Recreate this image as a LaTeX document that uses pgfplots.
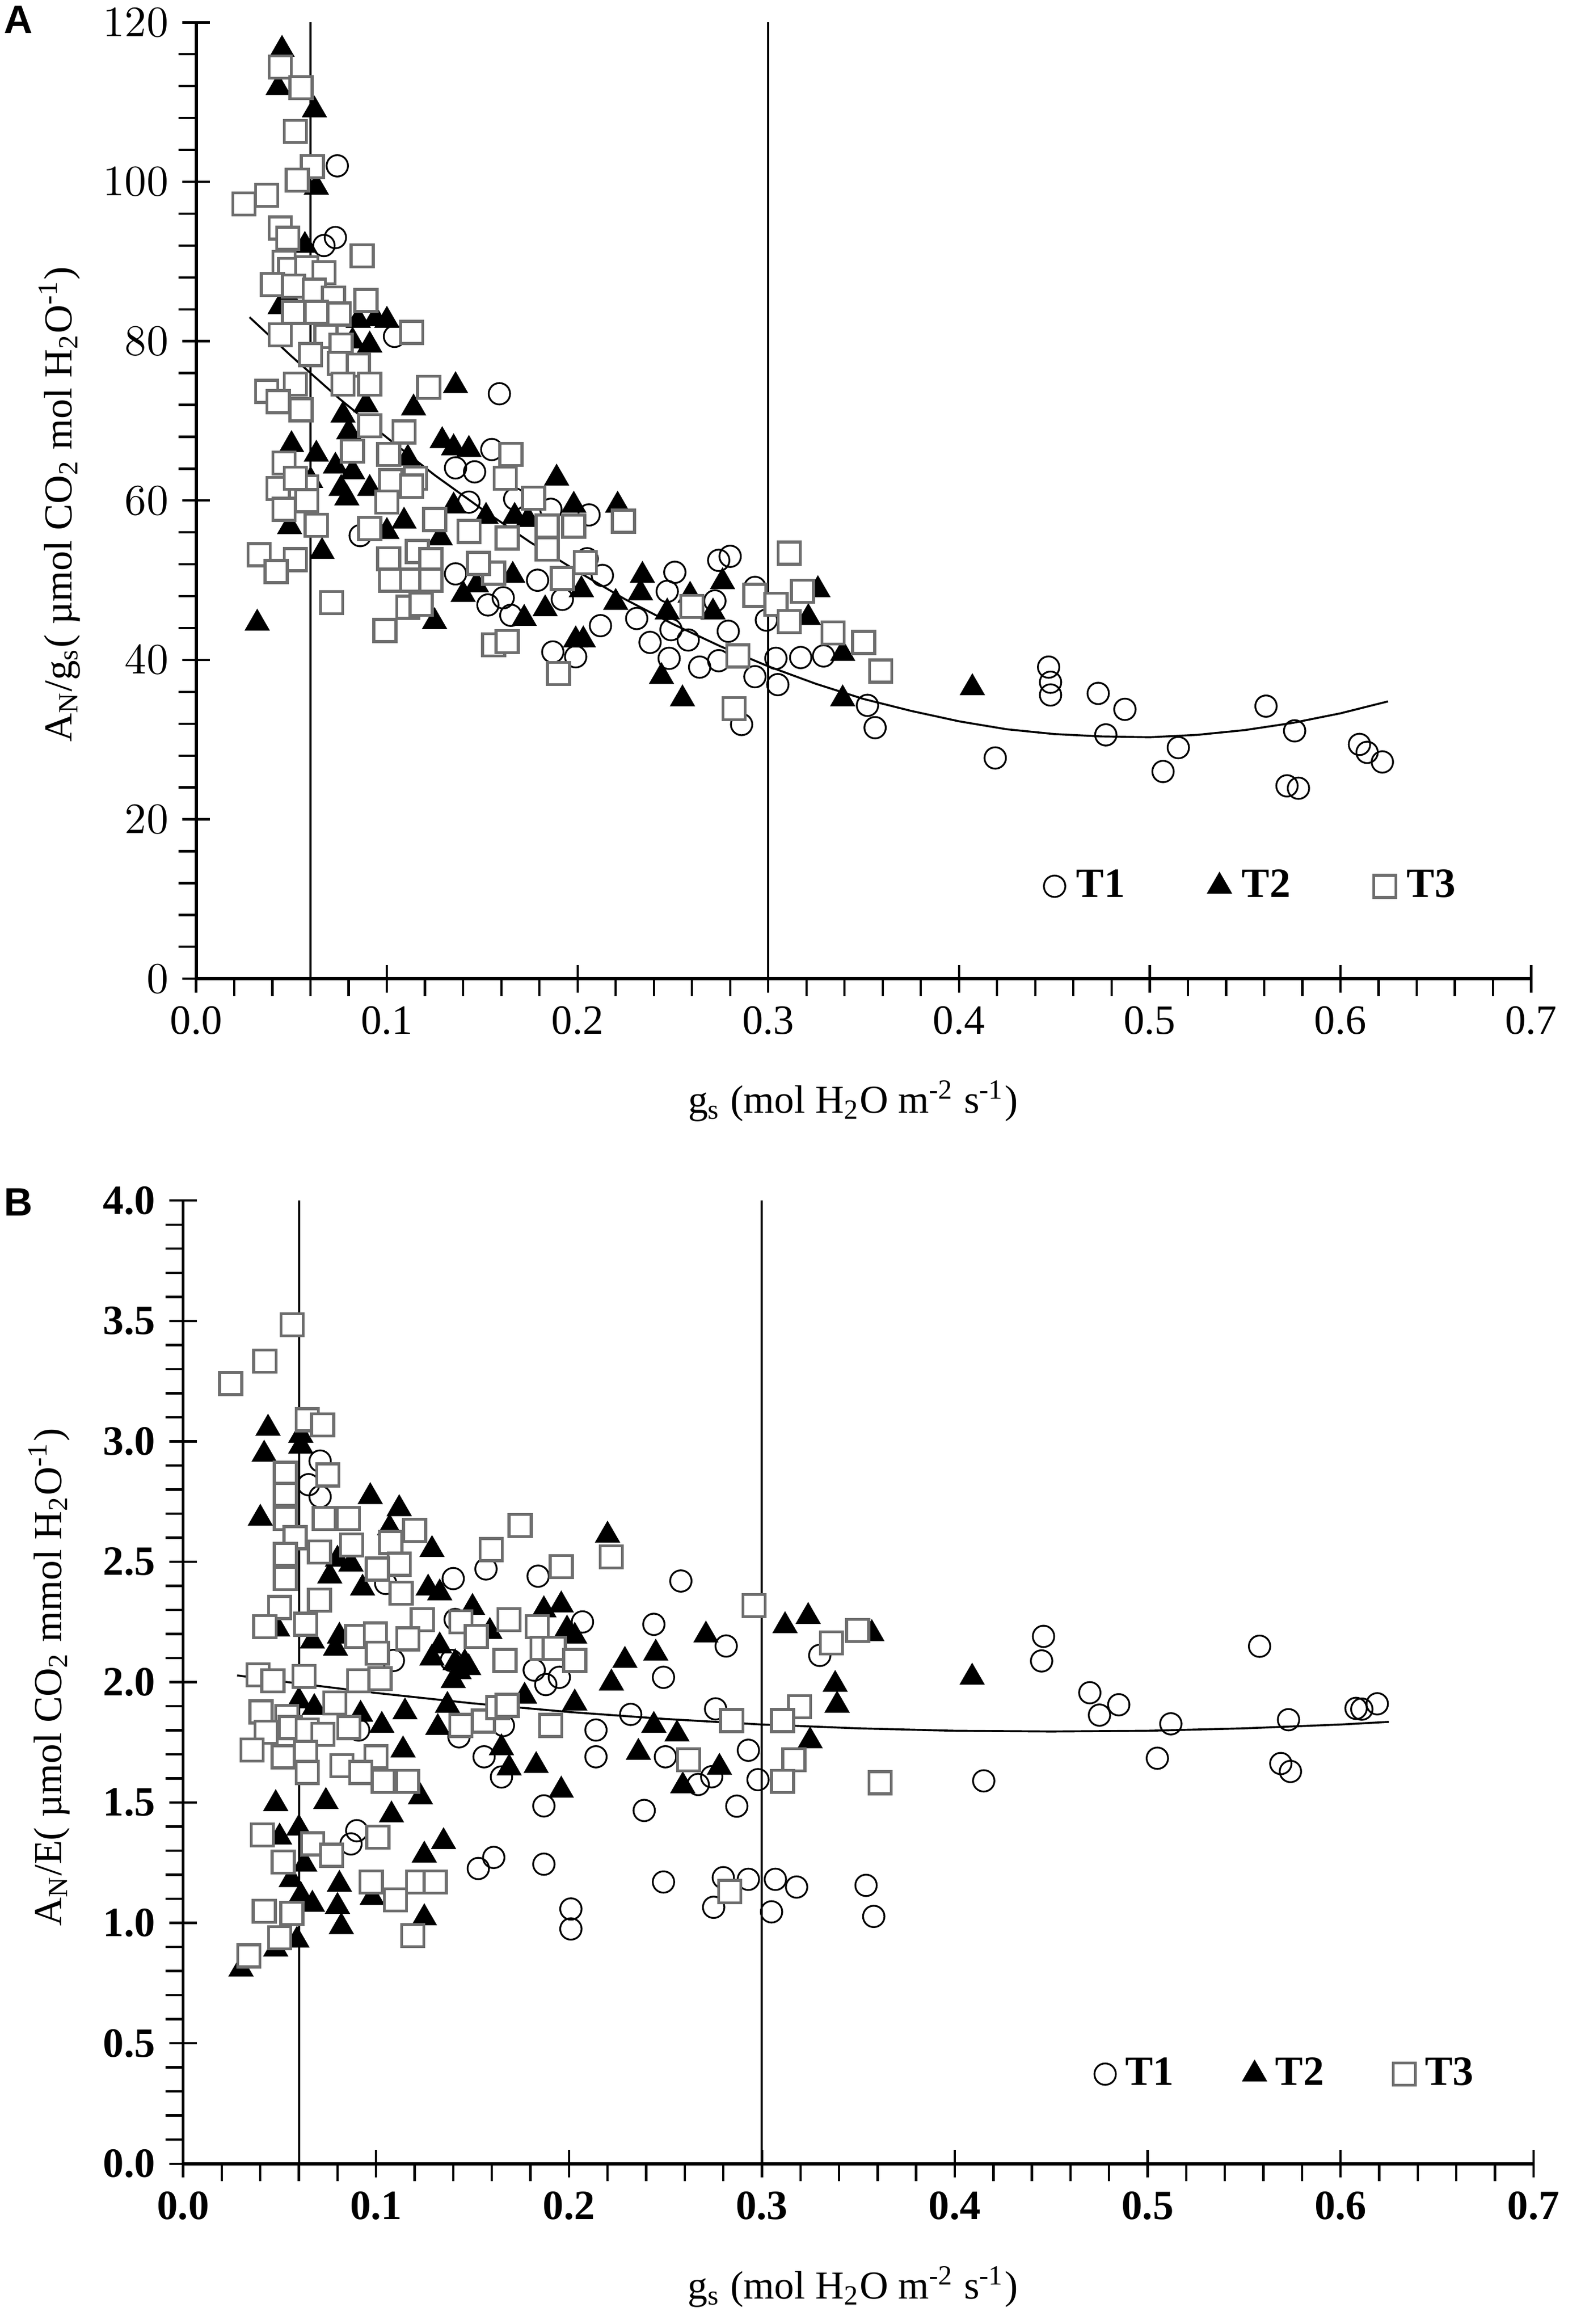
\documentclass[border=0pt]{standalone}
\usepackage{pgfplots}
\pgfplotsset{compat=1.18}
\usepackage{fontspec}
\setmainfont{Liberation Serif}
\newfontfamily\panelfont{Liberation Sans}
\definecolor{sqgray}{RGB}{110,110,110}

\pgfplotsset{
  common/.style={
    scale only axis,
    axis lines=left,
    axis line style={-, line width=0.8pt},
    xmin=0, xmax=0.7,
    xtick={0,0.1,0.2,0.3,0.4,0.5,0.6,0.7},
    xticklabels={0.0,0.1,0.2,0.3,0.4,0.5,0.6,0.7},
    minor x tick num=4,
    minor y tick num=4,
    tick align=center,
    major tick length=7pt,
    minor tick length=4.4pt,
    every minor x tick/.append style={yshift=-2.2pt},
    every minor y tick/.append style={xshift=-2.2pt},
    tick style={line width=0.6pt, black},
    label style={font=\fontsize{10.5}{12}\selectfont\bfseries},
    legend columns=3,
    legend cell align=left,
    legend image code/.code={\draw[#1] plot coordinates {(0cm,0cm)};},
  },
  t1/.style={only marks, mark=o, mark size=2.7pt, black, mark options={line width=0.45pt}},
  t2/.style={only marks, mark=triangle*, mark size=3.3pt, black},
  t3/.style={only marks, mark=square*, mark size=2.8pt, draw=sqgray, fill=white, mark options={line width=0.75pt, draw=sqgray, fill=white}},
  vline/.style={black, line width=0.55pt, forget plot},
  trend/.style={black, line width=0.5pt, forget plot},
}

\begin{document}
\begin{tikzpicture}
\useasboundingbox (0,0) rectangle (400pt,586.5pt);

% ---------------- Panel A ----------------
\begin{axis}[common,
  at={(49.51pt,339.5pt)}, anchor=south west,
  width=336.9pt, height=241.35pt,
  ymin=0, ymax=120,
  ytick={0,20,40,60,80,100,120},
  tick label style={font=\fontsize{10.5}{12}\selectfont},
  xlabel={g\textsubscript{s} (mol H\textsubscript{2}O m\textsuperscript{-2} s\textsuperscript{-1})},
  ylabel={A\textsubscript{N}/g\textsubscript{s}( µmol CO\textsubscript{2} mol H\textsubscript{2}O\textsuperscript{-1})},
  every axis x label/.style={at={(axis description cs:0.492,-0.128)}, anchor=center},
  every axis y label/.style={at={(axis description cs:-0.1025,0.496)}, rotate=90, anchor=center},
  legend style={at={(axis cs:0.4518,11.6)}, anchor=west, xshift=-3.7pt, draw=none, fill=none,
    inner sep=0pt, nodes={inner sep=1pt}, font=\fontsize{10.5}{12}\selectfont\bfseries,
    /tikz/every odd column/.append style={column sep=1.8pt},
    /tikz/every even column/.append style={column sep=20pt}},
]
\addplot[vline] coordinates {(0.06,0) (0.06,120)};
\addplot[vline] coordinates {(0.3,0) (0.3,120)};
\addplot[trend] coordinates {
(0.028,83.0) (0.05,78.1) (0.075,72.8) (0.1,67.9) (0.125,63.2) (0.15,58.9) (0.175,54.8)
(0.2,51.1) (0.225,47.6) (0.25,44.5) (0.275,41.7) (0.3,39.2) (0.325,37.0) (0.35,35.1)
(0.375,33.6) (0.4,32.3) (0.425,31.3) (0.45,30.7) (0.475,30.4) (0.5,30.3) (0.525,30.6)
(0.55,31.2) (0.575,32.1) (0.6,33.3) (0.625,34.8)};
% T1
\addplot[t1] coordinates {
(0.074,102) (0.073,93) (0.067,92) (0.104,80.6) (0.159,73.4) (0.155,66.4) (0.136,64.1)
(0.146,63.6) (0.143,59.8) (0.167,60.2) (0.186,58.9) (0.206,58.2) (0.086,55.6) (0.136,50.8)
(0.179,50.0) (0.161,47.8) (0.153,46.9) (0.165,45.6) (0.192,47.6) (0.187,41.0) (0.199,40.4)
(0.205,52.7) (0.213,50.6) (0.212,44.3) (0.251,51.0) (0.247,48.6) (0.231,45.2) (0.249,43.8)
(0.238,42.2) (0.258,42.5) (0.248,40.2) (0.264,39.1) (0.274,39.9) (0.272,47.4) (0.274,52.5)
(0.280,53.0) (0.293,49.1) (0.293,37.9) (0.286,31.9) (0.279,43.6) (0.299,45.0) (0.304,40.2)
(0.305,36.9) (0.317,40.3) (0.329,40.5) (0.352,34.3) (0.356,31.5) (0.419,27.7) (0.447,39.1)
(0.448,37.2) (0.448,35.6) (0.473,35.8) (0.487,33.8) (0.477,30.6) (0.515,29.0) (0.507,26.0)
(0.561,34.2) (0.576,31.1) (0.572,24.2) (0.578,23.9) (0.610,29.4) (0.614,28.4) (0.622,27.2)};
\addlegendentry{T1}
% T2
\addplot[t2] coordinates {
(0.045,116.6) (0.043,111.8) (0.062,109.0) (0.063,99.3) (0.057,92.0) (0.048,85.6) (0.044,84.3)
(0.085,82.6) (0.094,82.8) (0.100,82.6) (0.091,79.5) (0.082,80.0) (0.136,74.4) (0.114,71.6)
(0.089,72.0) (0.077,70.7) (0.080,68.6) (0.129,67.5) (0.135,66.6) (0.143,66.4) (0.111,65.3)
(0.063,65.8) (0.050,67.0) (0.073,64.3) (0.082,63.6) (0.060,62.5) (0.076,61.5) (0.091,61.5)
(0.135,59.3) (0.152,58.0) (0.167,58.0) (0.109,57.4) (0.100,56.1) (0.049,56.7) (0.079,60.3)
(0.174,57.6) (0.198,59.4) (0.128,55.3) (0.189,62.8) (0.066,53.6) (0.166,50.6) (0.147,49.4)
(0.140,48.2) (0.183,46.4) (0.172,45.2) (0.125,44.8) (0.199,42.5) (0.203,42.5) (0.032,44.6)
(0.202,48.8) (0.221,59.4) (0.220,47.2) (0.234,50.6) (0.233,48.4) (0.247,46.0) (0.259,48.1)
(0.271,46.0) (0.276,49.8) (0.244,37.9) (0.255,35.1) (0.326,48.8) (0.321,45.3) (0.339,40.8)
(0.339,35.1) (0.407,36.5)};
\addlegendentry{T2}
% T3
\addplot[t3] coordinates {
(0.044,114.4) (0.055,111.8) (0.052,106.3) (0.061,101.9) (0.053,100.2) (0.025,97.2) (0.037,98.3)
(0.044,94.2) (0.048,92.9) (0.087,90.7) (0.046,89.9) (0.049,89.0) (0.058,89.2) (0.067,88.6)
(0.040,87.1) (0.051,86.9) (0.062,86.4) (0.072,85.4) (0.089,85.1) (0.051,83.6) (0.063,83.6)
(0.075,83.4) (0.113,81.1) (0.044,80.8) (0.068,80.6) (0.076,79.5) (0.060,78.3) (0.075,77.2)
(0.085,77.0) (0.037,73.7) (0.052,74.6) (0.077,74.6) (0.091,74.6) (0.122,74.2) (0.043,72.4)
(0.055,71.4) (0.091,69.4) (0.109,68.6) (0.082,66.2) (0.101,65.8) (0.165,65.8) (0.046,64.7)
(0.115,62.8) (0.043,61.5) (0.058,61.7) (0.046,58.9) (0.063,56.9) (0.091,56.5) (0.125,57.6)
(0.052,62.8) (0.102,62.5) (0.113,61.8) (0.162,62.8) (0.177,60.3) (0.198,56.8) (0.184,56.8)
(0.143,56.1) (0.100,59.8) (0.058,60.0) (0.101,52.7) (0.116,53.6) (0.123,52.6) (0.033,53.2)
(0.052,52.6) (0.042,51.1) (0.102,50.0) (0.113,50.0) (0.123,50.0) (0.156,50.9) (0.148,52.1)
(0.192,50.2) (0.163,55.3) (0.071,47.2) (0.111,46.6) (0.118,47.0) (0.099,43.7) (0.156,41.9)
(0.163,42.3) (0.190,38.3) (0.184,53.9) (0.204,52.2) (0.224,57.4) (0.260,46.7) (0.293,48.1)
(0.304,47.0) (0.311,53.4) (0.318,48.6) (0.311,44.8) (0.334,43.4) (0.350,42.2) (0.359,38.6)
(0.282,33.9) (0.284,40.5)};
\addlegendentry{T3}
\end{axis}

% ---------------- Panel B ----------------
\begin{axis}[common,
  at={(46.22pt,40.45pt)}, anchor=south west,
  width=340.8pt, height=243.07pt,
  ymin=0, ymax=4,
  ytick={0,0.5,1,1.5,2,2.5,3,3.5,4},
  yticklabels={0.0,0.5,1.0,1.5,2.0,2.5,3.0,3.5,4.0},
  tick label style={font=\fontsize{10.5}{12}\selectfont\bfseries},
  xlabel={g\textsubscript{s} (mol H\textsubscript{2}O m\textsuperscript{-2} s\textsuperscript{-1})},
  ylabel={A\textsubscript{N}/E( µmol CO\textsubscript{2} mmol H\textsubscript{2}O\textsuperscript{-1})},
  every axis x label/.style={at={(axis description cs:0.496,-0.128)}, anchor=center},
  every axis y label/.style={at={(axis description cs:-0.0993,0.505)}, rotate=90, anchor=center},
  legend style={at={(axis cs:0.4796,0.372)}, anchor=west, xshift=-3.7pt, draw=none, fill=none,
    inner sep=0pt, nodes={inner sep=1pt}, font=\fontsize{10.5}{12}\selectfont\bfseries,
    /tikz/every odd column/.append style={column sep=1.4pt},
    /tikz/every even column/.append style={column sep=16.5pt}},
]
\addplot[vline] coordinates {(0.06,0) (0.06,4)};
\addplot[vline] coordinates {(0.3,0) (0.3,4)};
\addplot[trend] coordinates {
(0.028,2.028) (0.05,2.004) (0.1,1.955) (0.15,1.912) (0.2,1.876) (0.25,1.847) (0.3,1.824)
(0.35,1.808) (0.4,1.798) (0.45,1.795) (0.5,1.798) (0.55,1.808) (0.6,1.824) (0.625,1.835)};
% T1
\addplot[t1] coordinates {
(0.071,2.918) (0.065,2.82) (0.071,2.77) (0.105,2.41) (0.140,2.43) (0.157,2.47) (0.184,2.44)
(0.258,2.42) (0.207,2.25) (0.244,2.24) (0.141,2.26) (0.109,2.09) (0.249,2.02) (0.139,2.09)
(0.182,2.05) (0.195,2.02) (0.188,1.99) (0.232,1.866) (0.214,1.801) (0.214,1.690) (0.250,1.690)
(0.156,1.690) (0.165,1.606) (0.166,1.820) (0.143,1.773) (0.091,1.801) (0.090,1.383) (0.087,1.328)
(0.153,1.226) (0.161,1.272) (0.187,1.244) (0.187,1.486) (0.239,1.467) (0.249,1.170) (0.201,1.058)
(0.201,0.975) (0.2815,2.15) (0.330,2.111) (0.276,1.889) (0.293,1.717) (0.298,1.595) (0.274,1.607)
(0.267,1.575) (0.287,1.485) (0.280,1.188) (0.293,1.181) (0.307,1.181) (0.318,1.149) (0.275,1.065)
(0.305,1.046) (0.354,1.156) (0.358,1.027) (0.446,2.19) (0.445,2.088) (0.415,1.59) (0.470,1.956)
(0.475,1.863) (0.485,1.906) (0.512,1.827) (0.505,1.684) (0.558,2.149) (0.573,1.844) (0.569,1.662)
(0.574,1.629) (0.608,1.891) (0.611,1.888) (0.619,1.91)};
\addlegendentry{T1}
% T2
\addplot[t2] coordinates {
(0.044,3.054) (0.061,3.025) (0.042,2.946) (0.061,2.98) (0.097,2.77) (0.112,2.72) (0.040,2.68)
(0.107,2.64) (0.129,2.55) (0.220,2.61) (0.080,2.51) (0.087,2.49) (0.076,2.44) (0.093,2.39)
(0.127,2.39) (0.133,2.37) (0.150,2.31) (0.187,2.30) (0.196,2.32) (0.159,2.21) (0.199,2.22)
(0.203,2.19) (0.049,2.22) (0.067,2.17) (0.081,2.19) (0.079,2.14) (0.133,2.15) (0.129,2.10)
(0.141,2.08) (0.146,2.08) (0.229,2.09) (0.245,2.12) (0.060,1.922) (0.068,1.894) (0.092,1.866)
(0.103,1.820) (0.115,1.876) (0.114,1.718) (0.132,1.811) (0.137,1.903) (0.165,1.727) (0.169,1.643)
(0.183,1.653) (0.196,1.551) (0.177,1.941) (0.203,1.913) (0.222,1.996) (0.244,1.82) (0.236,1.708)
(0.048,1.495) (0.074,1.504) (0.108,1.448) (0.123,1.523) (0.135,1.337) (0.125,1.281) (0.050,1.356)
(0.060,1.393) (0.063,1.244) (0.056,1.179) (0.061,1.114) (0.067,1.077) (0.081,1.160) (0.080,1.068)
(0.082,0.984) (0.098,1.105) (0.125,1.021) (0.059,0.928) (0.048,0.891) (0.030,0.808) (0.143,2.043)
(0.148,2.06) (0.140,2.006) (0.271,2.195) (0.312,2.234) (0.324,2.272) (0.357,2.201) (0.338,1.99)
(0.339,1.904) (0.325,1.756) (0.278,1.646) (0.259,1.569) (0.256,1.784) (0.409,2.02)};
\addlegendentry{T2}
% T3
\addplot[t3] coordinates {
(0.0565,3.484) (0.0424,3.333) (0.0247,3.240) (0.0644,3.09) (0.0723,3.068) (0.053,2.867) (0.075,2.86)
(0.053,2.78) (0.053,2.68) (0.0732,2.68) (0.0856,2.68) (0.058,2.60) (0.120,2.63) (0.1076,2.58)
(0.0873,2.57) (0.0706,2.54) (0.053,2.53) (0.1747,2.65) (0.1597,2.55) (0.112,2.49) (0.1006,2.47)
(0.053,2.43) (0.196,2.48) (0.222,2.52) (0.113,2.37) (0.0706,2.34) (0.050,2.31) (0.0424,2.23)
(0.0635,2.24) (0.124,2.26) (0.144,2.25) (0.169,2.26) (0.1835,2.23) (0.152,2.19) (0.090,2.19)
(0.0997,2.20) (0.1165,2.18) (0.1006,2.12) (0.1668,2.09) (0.186,2.14) (0.1923,2.14) (0.203,2.09)
(0.0388,2.03) (0.0465,2.006) (0.0626,2.024) (0.091,2.006) (0.102,2.015) (0.0787,1.913) (0.0403,1.876)
(0.0537,1.857) (0.043,1.792) (0.0555,1.811) (0.0644,1.801) (0.0725,1.783) (0.0859,1.811) (0.0635,1.708)
(0.0358,1.718) (0.0519,1.690) (0.100,1.690) (0.0644,1.625) (0.0823,1.653) (0.0921,1.625) (0.1038,1.588)
(0.1163,1.588) (0.144,1.82) (0.1556,1.838) (0.163,1.894) (0.168,1.903) (0.1905,1.82) (0.0411,1.365)
(0.0519,1.253) (0.0671,1.328) (0.0769,1.281) (0.101,1.356) (0.042,1.049) (0.0564,1.04) (0.0501,0.938)
(0.034,0.863) (0.0975,1.170) (0.110,1.096) (0.1216,1.170) (0.1306,1.170) (0.119,0.947) (0.296,2.318)
(0.3497,2.214) (0.336,2.163) (0.3195,1.898) (0.3107,1.840) (0.2844,1.840) (0.262,1.678) (0.3166,1.678)
(0.3107,1.588) (0.3613,1.582) (0.2834,1.13)};
\addlegendentry{T3}
\end{axis}

\node[font=\panelfont\bfseries\fontsize{10}{12}\selectfont] at (4.68pt,581.5pt) {A};
\node[font=\panelfont\bfseries\fontsize{10}{12}\selectfont] at (4.68pt,283.1pt) {B};
\end{tikzpicture}
\end{document}
